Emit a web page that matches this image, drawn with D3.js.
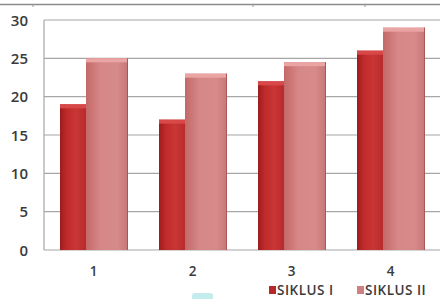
<!DOCTYPE html>
<html>
<head>
<meta charset="utf-8">
<script src="https://cdn.jsdelivr.net/npm/d3@7"></script>
<style>
  body { margin: 0; background: #fff; }
  text { font-family: "Open Sans", "DejaVu Sans", sans-serif; }
</style>
</head>
<body>
<div id="chart"></div>
<script>
const categories = ['1', '2', '3', '4'];
const siklus1 = [19, 17, 22, 26];
const siklus2 = [25, 23, 24.5, 29];
const seriesNames = ['SIKLUS I', 'SIKLUS II'];
const yTicks = [0, 5, 10, 15, 20, 25, 30];

const width = 440;
const height = 299;

const svg = d3.select('#chart')
    .append('svg')
        .attr('width', width)
        .attr('height', height);

const defs = svg.append('defs');

const grad = (id, stops) => {
    const g = defs.append('linearGradient').attr('id', id)
        .attr('x1', '0%').attr('x2', '100%').attr('y1', '0%').attr('y2', '0%');
    stops.forEach(s => g.append('stop').attr('offset', s[0]).attr('stop-color', s[1]));
};
grad('darkGrad', [['0%', '#9c1c1c'], ['25%', '#c02a2a'], ['60%', '#c93636'], ['100%', '#b62a2a']]);
grad('lightGrad', [['0%', '#c46868'], ['35%', '#d68888'], ['75%', '#d78a8a'], ['100%', '#c67676']]);

// frame line at the top of the picture
svg.append('line')
    .attr('x1', 0).attr('x2', width).attr('y1', 4.5).attr('y2', 4.5)
    .attr('stroke', '#8a8a8a').attr('stroke-width', 1.5);
[33, 253, 365].forEach(x => svg.append('line')
    .attr('x1', x).attr('x2', x).attr('y1', 4).attr('y2', 7)
    .attr('stroke', '#999'));

const x = d3.scaleBand().domain(categories).range([44, 440]);
const y = d3.scaleLinear().domain([0, 30]).range([250, 20]);

// gridlines
svg.append('g')
    .selectAll('line')
    .data(yTicks)
    .enter()
    .append('line')
        .attr('x1', 44).attr('x2', 440)
        .attr('y1', d => y(d)).attr('y2', d => y(d))
        .attr('stroke', '#a6a6a6').attr('stroke-width', 1.2);

// y axis line
svg.append('line')
    .attr('x1', 44).attr('x2', 44).attr('y1', y(30)).attr('y2', y(0))
    .attr('stroke', '#a6a6a6').attr('stroke-width', 1.2);

svg.append('g')
    .selectAll('text')
    .data(yTicks)
    .enter()
    .append('text')
        .attr('x', 28)
        .attr('y', d => y(d) + 5.5)
        .attr('text-anchor', 'end')
        .attr('font-size', 15)
        .attr('font-weight', 600)
        .attr('fill', '#3a3a3a')
        .text(d => d);

const bars = svg.append('g');

const drawBar = (x0, w, v, fill, top, edge) => {
    bars.append('rect')
        .attr('x', x0).attr('y', y(v))
        .attr('width', w).attr('height', y(0) - y(v))
        .attr('fill', fill);
    bars.append('rect')
        .attr('x', x0).attr('y', y(v))
        .attr('width', w).attr('height', 4)
        .attr('fill', top);
    bars.append('line')
        .attr('x1', x0 + w - 0.5).attr('x2', x0 + w - 0.5)
        .attr('y1', y(v)).attr('y2', y(0))
        .attr('stroke', edge).attr('stroke-width', 1);
};

categories.forEach((c, i) => {
    const x0 = x(c);
    drawBar(x0 + 16, 27, siklus1[i], 'url(#darkGrad)', '#d94848', '#8c1a1a');
    drawBar(x0 + 42, 42, siklus2[i], 'url(#lightGrad)', '#eaa4a4', '#a85858');
});

// x labels
svg.append('g')
    .selectAll('text')
    .data(categories)
    .enter()
    .append('text')
        .attr('x', d => x(d) + x.bandwidth() / 2)
        .attr('y', 276)
        .attr('text-anchor', 'middle')
        .attr('font-size', 13.5)
        .attr('font-weight', 600)
        .attr('fill', '#3a3a3a')
        .text(d => d);

// legend
const legend = svg.append('g');
const legendItems = [
    { name: seriesNames[0], x: 269, color: '#b82828' },
    { name: seriesNames[1], x: 357, color: '#d08080' }
];
legendItems.forEach(d => {
    legend.append('rect')
        .attr('x', d.x).attr('y', 286)
        .attr('width', 7).attr('height', 8)
        .attr('fill', d.color);
    legend.append('text')
        .attr('x', d.x + 8).attr('y', 295)
        .attr('font-size', 13.5)
        .attr('font-weight', 600)
        .attr('letter-spacing', 0.5)
        .attr('fill', '#3a3a3a')
        .text(d.name);
});

// small cyan mark at the bottom of the picture
svg.append('rect')
    .attr('x', 192).attr('y', 293).attr('width', 21).attr('height', 10)
    .attr('rx', 3).attr('fill', '#c4ebee');
</script>
</body>
</html>
